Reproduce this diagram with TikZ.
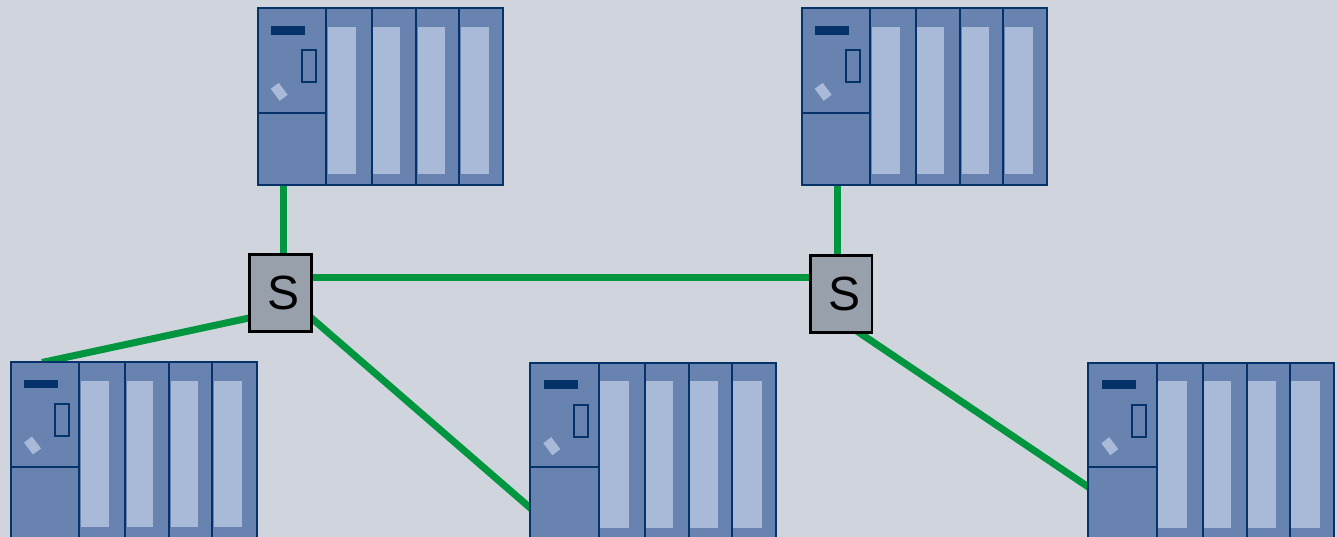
\documentclass[tikz,border=0pt]{standalone}
\usepackage{fontspec}
\setmainfont{Liberation Sans}
\usetikzlibrary{calc}
\definecolor{bgc}{HTML}{D0D4DC}
\definecolor{modfill}{HTML}{6883B0}
\definecolor{stripc}{HTML}{A9B9D8}
\definecolor{navy}{HTML}{06326A}
\definecolor{netgreen}{HTML}{00963F}
\definecolor{swfill}{HTML}{97A0AB}
\pgfdeclarelayer{bg}
\pgfdeclarelayer{wires}
\pgfsetlayers{bg,wires,main}
\tikzset{
  plcbox/.style={draw=navy, line width=2pt, fill=modfill, minimum width=245.5pt,
    minimum height=177pt, inner sep=0pt, outer sep=0pt, anchor=north west},
  divider/.style={draw=navy, line width=2pt},
  slotstrip/.style={fill=stripc},
  switchbox/.style={draw=black, line width=2.7pt, fill=swfill, minimum width=61.5pt,
    minimum height=77pt, inner sep=0pt, outer sep=0pt,
    font=\fontsize{48}{56}\selectfont},
  wire/.style={draw=netgreen, line width=7pt, shorten <=-6pt, shorten >=-6pt},
  openwire/.style={draw=netgreen, line width=7pt, shorten <=-6pt}
}
\newcommand{\plcunit}[3]{%
  \node[plcbox] (#1) at (#2,#3) {};
  \begin{scope}[shift={(#2,#3)}]
    \fill[slotstrip] (70,18.7) rectangle (98.3,165.4);
    \fill[slotstrip] (115.6,18.7) rectangle (142.3,165.4);
    \fill[slotstrip] (160,18.7) rectangle (187.3,165.4);
    \fill[slotstrip] (203,18.7) rectangle (231.3,165.4);
    \draw[divider] (68.3,0) -- (68.3,177);
    \draw[divider] (114.3,0) -- (114.3,177);
    \draw[divider] (158.3,0) -- (158.3,177);
    \draw[divider] (201.3,0) -- (201.3,177);
    \draw[divider] (0,104.7) -- (68.3,104.7);
    \fill[navy] (13.3,17.7) rectangle (47.3,26.4);
    \draw[navy, line width=2pt, fill=modfill] (44,42) rectangle (58,74);
    \fill[stripc, rotate around={37:(21.5,83.5)}] (16.5,76) rectangle (26.5,91);
  \end{scope}
  \draw[navy, line width=2pt] (#1.north west) rectangle (#1.south east);
}
\begin{document}
\begin{tikzpicture}[x=1pt, y=-1pt]
\useasboundingbox (0,0) rectangle (1338,537);
\begin{pgfonlayer}{bg}
  \fill[bgc] (0,0) rectangle (1338,537);
\end{pgfonlayer}

\plcunit{A}{257.7}{8.3}
\plcunit{B}{801.7}{8.3}
\plcunit{C}{11}{362}
\plcunit{D}{530.3}{362.7}
\plcunit{E}{1088.3}{362.7}

\node[switchbox] (sw1) at (280.5,292.85) {\hspace*{7pt}S};
\node[switchbox] (sw2) at (841.35,294) {\hspace*{7pt}S};

\begin{pgfonlayer}{wires}
  \draw[wire] ($(A.south west)+(25.3,0)$) -- ($(sw1.north)+(2.5,0)$);
  \draw[wire] ($(B.south west)+(35.3,0)$) -- ($(sw2.north)+(-4.35,0)$);
  \draw[wire] ($(sw1.east)+(0,-14.85)$) -- ($(sw2.west)+(0,-16)$);
  \draw[openwire] ($(sw1.west)+(0,25)$) -- ($(C.north west)+(31,0.5)$);
  \draw[wire] ($(sw1.east)+(0,25)$) -- ($(D.north west)+(0,145.3)$);
  \draw[wire] ($(sw2.south)+(17.6,0)$) -- ($(E.north west)+(0,124.3)$);
\end{pgfonlayer}
\end{tikzpicture}
\end{document}
